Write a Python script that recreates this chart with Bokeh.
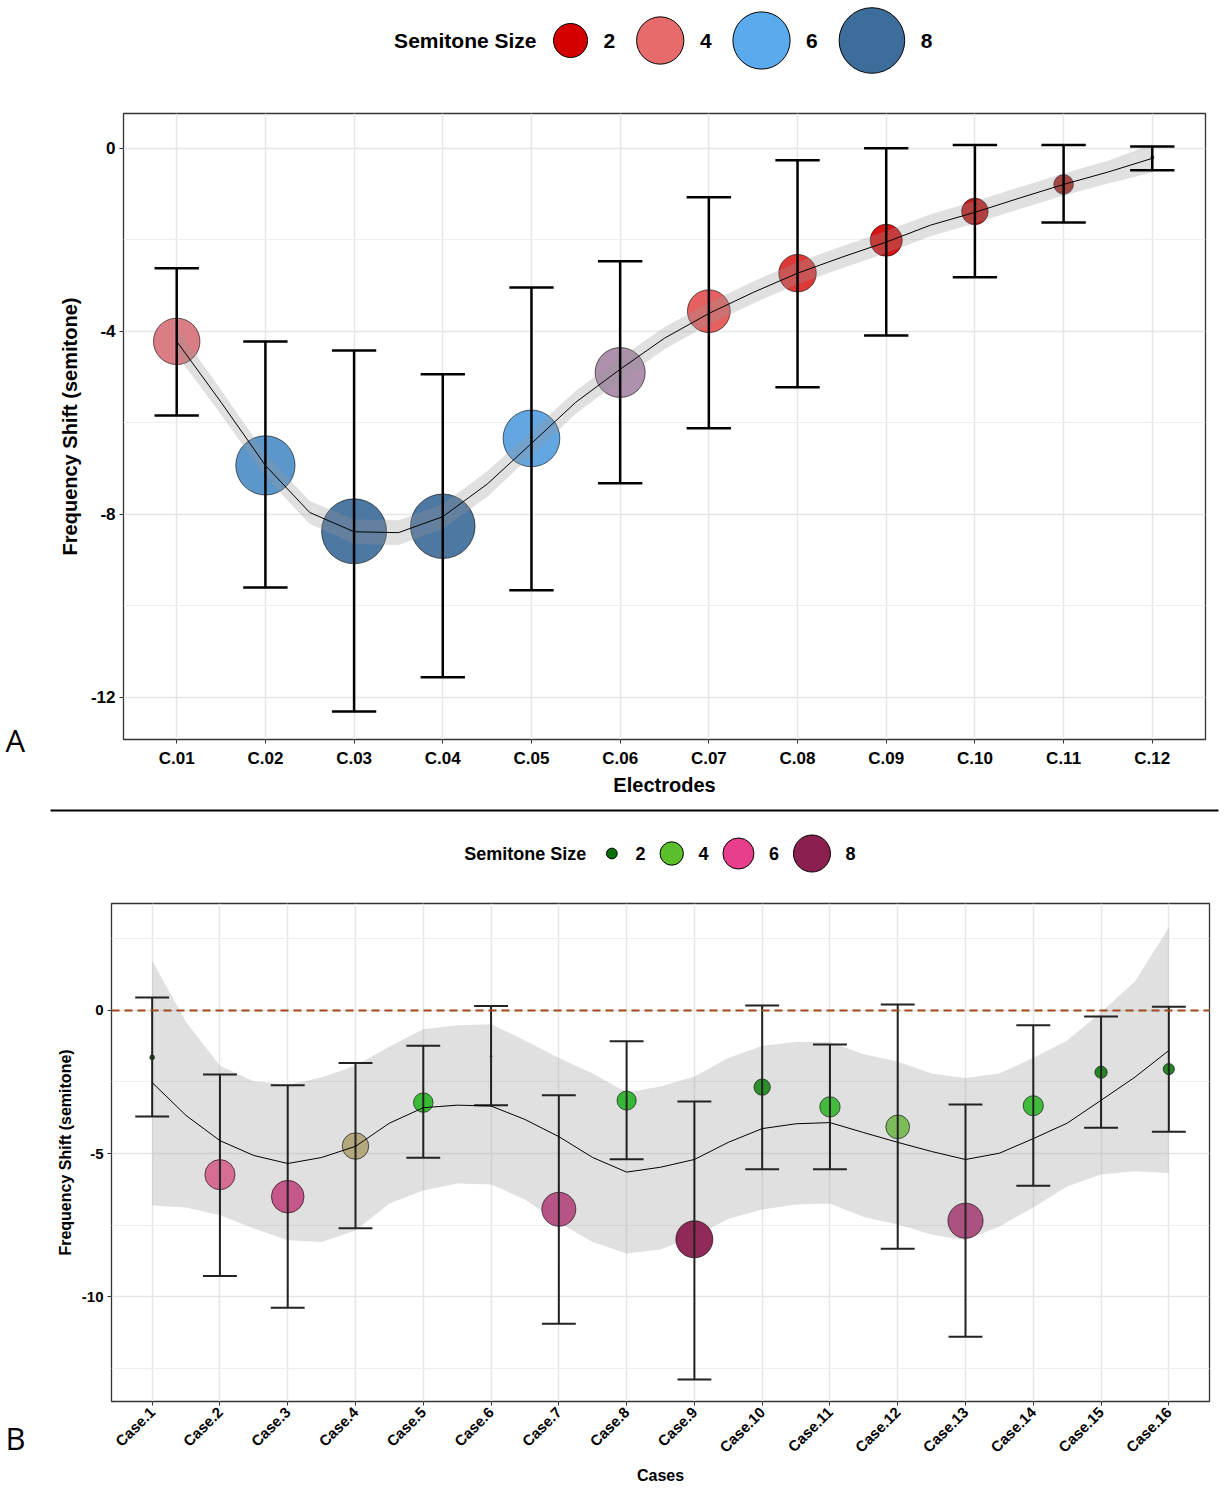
import math
from bokeh.plotting import figure
from bokeh.layouts import column, row
from bokeh.models import Range1d, FixedTicker, ColumnDataSource, Span
from bokeh.embed import file_html
from bokeh.resources import INLINE
from bokeh.core.properties import value

FONT = "Liberation Sans"
W = 1224
TAG_W = 30

# ---------------- Panel A data ----------------
electrodes = ["C.01", "C.02", "C.03", "C.04", "C.05", "C.06",
              "C.07", "C.08", "C.09", "C.10", "C.11", "C.12"]
shift_a = [-4.22, -6.93, -8.37, -8.26, -6.34, -4.90, -3.56, -2.73, -2.01, -1.38, -0.79, -0.20]
upper_a = [-2.62, -4.22, -4.42, -4.94, -3.04, -2.47, -1.07, -0.26, 0.00, 0.07, 0.07, 0.04]
lower_a = [-5.84, -9.60, -12.31, -11.56, -9.66, -7.32, -6.12, -5.22, -4.09, -2.82, -1.62, -0.48]
fit_pos_a = [1, 1.5, 2, 2.5, 3, 3.5, 4, 4.5, 5, 5.5, 6, 6.5, 7, 7.5, 8, 8.5, 9, 9.5,
             10, 10.5, 11, 11.5, 12]
fit_a = [-4.22, -5.55, -6.93, -7.96, -8.38, -8.40, -8.05, -7.34, -6.45, -5.55, -4.83,
         -4.15, -3.61, -3.15, -2.73, -2.38, -2.05, -1.68, -1.40, -1.09, -0.79, -0.52, -0.22]
fit_se_a = [0.30, 0.27, 0.25, 0.25, 0.27, 0.27, 0.27, 0.28, 0.26, 0.25, 0.25, 0.24,
            0.24, 0.24, 0.24, 0.24, 0.24, 0.24, 0.24, 0.24, 0.24, 0.25, 0.31]
yticks_a = [-12, -8, -4, 0]
yminor_a = [-10, -6, -2]

# ---------------- Panel B data ----------------
cases = ["Case.1", "Case.2", "Case.3", "Case.4", "Case.5", "Case.6", "Case.7", "Case.8",
         "Case.9", "Case.10", "Case.11", "Case.12", "Case.13", "Case.14", "Case.15", "Case.16"]
shift_b = [-1.64, -5.74, -6.51, -4.74, -3.22, -1.60, -6.95, -3.15,
           -8.00, -2.68, -3.37, -4.07, -7.35, -3.33, -2.16, -2.05]
upper_b = [0.45, -2.24, -2.61, -1.84, -1.23, 0.16, -2.96, -1.08,
           -3.18, 0.17, -1.19, 0.21, -3.29, -0.52, -0.21, 0.13]
lower_b = [-3.71, -9.28, -10.39, -7.61, -5.15, -3.31, -10.95, -5.20,
           -12.90, -5.55, -5.55, -8.33, -11.41, -6.13, -4.10, -4.24]
fit_pos_b = [1, 1.5, 2, 2.5, 3, 3.5, 4, 4.5, 5, 5.5, 6, 6.5, 7, 7.5, 8, 8.5, 9, 9.5,
             10, 10.5, 11, 11.5, 12, 12.5, 13, 13.5, 14, 14.5, 15, 15.5, 16]
fit_b = [-2.52, -3.67, -4.55, -5.07, -5.35, -5.14, -4.75, -3.94, -3.40, -3.31, -3.34,
         -3.81, -4.41, -5.14, -5.65, -5.48, -5.21, -4.61, -4.13, -3.96, -3.92, -4.27,
         -4.61, -4.93, -5.21, -4.99, -4.48, -3.94, -3.14, -2.33, -1.40]
fit_hi_b = [1.75, -0.40, -1.93, -2.47, -2.60, -2.34, -1.93, -1.26, -0.66, -0.52, -0.48,
            -1.05, -1.66, -2.20, -2.87, -2.66, -2.31, -1.66, -1.23, -1.10, -1.10, -1.53,
            -1.78, -2.20, -2.36, -2.20, -1.66, -1.05, -0.06, 1.01, 2.90]
fit_lo_b = [-6.82, -6.89, -7.16, -7.62, -8.03, -8.09, -7.69, -6.75, -6.29, -6.05, -6.08,
            -6.61, -7.41, -8.09, -8.50, -8.36, -7.89, -7.29, -6.96, -6.78, -6.75, -7.22,
            -7.48, -7.83, -8.03, -7.55, -6.89, -6.15, -5.73, -5.62, -5.68]
yticks_b = [-10, -5, 0]
yminor_b = [-12.5, -7.5, -2.5, 2.5]

legend_values = [2, 4, 6, 8]

# colour scales (|shift| -> colour)
stops_a = [(0.2, "#8b1a1a"), (2, "#d40000"), (4, "#e86b6b"), (6, "#5aaaee"), (8, "#3d6d9a")]
stops_b = [(1.6, "#006400"), (2.0, "#1a7d1a"), (2.68, "#228b22"), (3.2, "#2db82d"),
           (4.07, "#76b852"), (4.74, "#b0a478"), (5.74, "#d4668f"), (6.5, "#c44f86"),
           (7.35, "#a84a7a"), (8.0, "#8b1f50")]
legend_colors_b = ["#0a6e0a", "#5abf2a", "#e83e8c", "#8b1f50"]


def hex2rgb(h):
    return tuple(int(h[i:i + 2], 16) for i in (1, 3, 5))


def gradient(v, stops):
    if v <= stops[0][0]:
        return stops[0][1]
    for (v0, c0), (v1, c1) in zip(stops, stops[1:]):
        if v <= v1:
            t = (v - v0) / (v1 - v0)
            a, b = hex2rgb(c0), hex2rgb(c1)
            return "#%02x%02x%02x" % tuple(round(a[i] + (b[i] - a[i]) * t) for i in range(3))
    return stops[-1][1]


def area_size(v, lo, hi, dmin, dmax):
    t = min(max((v - lo) / (hi - lo), 0.0), 1.0)
    return dmin + (dmax - dmin) * math.sqrt(t)


def blank(fig):
    fig.xaxis.visible = False
    fig.yaxis.visible = False
    fig.grid.visible = False
    fig.outline_line_color = None
    fig.background_fill_color = "white"
    fig.border_fill_color = "white"


def page_fig(top, height, width=W):
    f = figure(width=width, height=height, x_range=Range1d(0, width),
               y_range=Range1d(top + height, top), output_backend="svg",
               toolbar_location=None, min_border=0)
    blank(f)
    return f


def tag_fig(top, height, y, tag):
    f = page_fig(top, height, TAG_W)
    f.text(x=[5], y=[y], text=[tag], text_align="left", text_baseline="middle",
           text_font=value("Open Sans"), text_font_size="31px", text_color="black")
    return f


def legend_fig(top, height, y_mid, title, fsize, diam, colors, cursor0, min_key,
               label_gap, item_gap, label_w, title_gap):
    f = page_fig(top, height)
    xs, ls = [], []
    cur = cursor0
    for d in diam:
        k = max(d, min_key)
        xs.append(cur + k / 2)
        ls.append(cur + k + label_gap)
        cur = cur + k + label_gap + label_w + item_gap
    n = len(diam)
    f.scatter(xs, [y_mid] * n, size=diam, fill_color=colors, line_color="black", line_width=1)
    f.text(x=[cursor0 - title_gap], y=[y_mid], text=[title], text_align="right",
           text_baseline="middle", text_font=value(FONT), text_font_style="bold",
           text_font_size=fsize, text_color="black")
    f.text(x=ls, y=[y_mid] * n, text=[str(v) for v in legend_values], text_align="left",
           text_baseline="middle", text_font=value(FONT), text_font_style="bold",
           text_font_size=fsize, text_color="black")
    return f


def rule_fig(top, height, y, lw):
    f = page_fig(top, height)
    f.segment(x0=[50], y0=[y], x1=[1218], y1=[y], line_color="black", line_width=lw)
    return f


def panel(height, n, y_lo, y_hi, borders, labels, yt, ym, tick_size, ytick_size, title_size,
          xtitle, ytitle, xstand, ystand, xlab_stand):
    p = figure(width=W - TAG_W, height=height, x_range=Range1d(0.4, n + 0.6),
               y_range=Range1d(y_lo, y_hi), output_backend="svg", toolbar_location=None,
               min_border_left=borders[0] - TAG_W, min_border_right=borders[1],
               min_border_top=borders[2], min_border_bottom=borders[3])
    p.background_fill_color = "white"
    p.border_fill_color = "white"
    p.outline_line_color = "#333333"
    p.outline_line_width = 1.3
    pos = list(range(1, n + 1))
    p.xaxis.ticker = FixedTicker(ticks=pos)
    p.xaxis.major_label_overrides = {k: lab for k, lab in zip(pos, labels)}
    p.yaxis.ticker = FixedTicker(ticks=yt, minor_ticks=ym)
    p.yaxis.major_label_overrides = {t: ("%g" % t) for t in yt}
    for ax in (p.xaxis, p.yaxis):
        ax.axis_line_color = None
        ax.major_tick_line_color = "#333333"
        ax.major_tick_line_width = 1
        ax.major_tick_out = 4
        ax.major_tick_in = 0
        ax.minor_tick_line_color = None
        ax.major_label_text_font = FONT
        ax.major_label_text_font_style = "bold"
        ax.major_label_text_color = "black"
        ax.axis_label_text_font = FONT
        ax.axis_label_text_font_style = "bold"
        ax.axis_label_text_color = "black"
        ax.axis_label_text_font_size = title_size
    p.xaxis.major_label_text_font_size = tick_size
    p.yaxis.major_label_text_font_size = ytick_size
    p.xaxis.major_label_standoff = xlab_stand
    p.yaxis.major_label_standoff = 4
    p.xaxis.axis_label = xtitle
    p.yaxis.axis_label = ytitle
    p.xaxis.axis_label_standoff = xstand
    p.yaxis.axis_label_standoff = ystand
    p.xgrid.ticker = FixedTicker(ticks=pos)
    p.xgrid.grid_line_color = "#e6e6e6"
    p.xgrid.grid_line_width = 1.5
    p.ygrid.grid_line_color = "#e6e6e6"
    p.ygrid.grid_line_width = 1.5
    p.ygrid.minor_grid_line_color = "#eeeeee"
    p.ygrid.minor_grid_line_width = 1
    return p, pos


def point_source(pos, shift, upper, lower, stops, dmin, dmax):
    mags = [abs(v) for v in shift]
    lo, hi = min(mags), max(mags)
    src = ColumnDataSource(dict(
        x=pos, y=shift, up=upper, lo=lower,
        x0=[q - 0.25 for q in pos], x1=[q + 0.25 for q in pos],
        size=[area_size(m, lo, hi, dmin, dmax) for m in mags],
        color=[gradient(m, stops) for m in mags]))
    return src, lo, hi


def draw_points(p, src, alpha):
    p.scatter("x", "y", size="size", fill_color="color", line_color="black",
              line_width=0.6, fill_alpha=alpha, source=src)


def draw_bars(p, src, bar_w, color):
    p.segment("x", "lo", "x", "up", line_color=color, line_width=bar_w, source=src)
    p.segment("x0", "up", "x1", "up", line_color=color, line_width=bar_w, source=src)
    p.segment("x0", "lo", "x1", "lo", line_color=color, line_width=bar_w, source=src)


# ---------------- Panel A (page y 80..800) ----------------
pA, posA = panel(720, len(electrodes), -12.92, 0.76, (123, 19, 33, 61), electrodes,
                 yticks_a, yminor_a, "17px", "17px", "20px", "Electrodes",
                 "Frequency Shift (semitone)", 3, 7, 5)
srcA, loA, hiA = point_source(posA, shift_a, upper_a, lower_a, stops_a, 3, 65)
draw_points(pA, srcA, 0.92)
pA.varea(x=fit_pos_a, y1=[f - s for f, s in zip(fit_a, fit_se_a)],
         y2=[f + s for f, s in zip(fit_a, fit_se_a)], fill_color="#999999", fill_alpha=0.3)
draw_bars(pA, srcA, 2.5, "black")
pA.line(fit_pos_a, fit_a, line_color="black", line_width=1)
tagA = tag_fig(80, 720, 739, "A")

legA = legend_fig(0, 80, 40, "Semitone Size", "21px",
                  [area_size(v, loA, hiA, 3, 65) + 2 for v in legend_values],
                  [gradient(v, stops_a) for v in legend_values],
                  553, 17, 16, 21, 12, 17)

# ---------------- Panel B (page y 885..1490) ----------------
pB, posB = panel(605, len(cases), -13.67, 3.74, (111, 15, 18, 89), cases,
                 yticks_b, yminor_b, "15px", "15px", "16px", "Cases",
                 "Frequency Shift (semitone)", 2, 5, 4)
pB.xaxis.major_label_orientation = math.pi / 4
srcB, loB, hiB = point_source(posB, shift_b, upper_b, lower_b, stops_b, 2, 37)
pB.varea(x=fit_pos_b, y1=fit_lo_b, y2=fit_hi_b, fill_color="#999999", fill_alpha=0.3)
draw_points(pB, srcB, 0.95)
draw_bars(pB, srcB, 2, "#222222")
pB.line(fit_pos_b, fit_b, line_color="black", line_width=1)
pB.add_layout(Span(location=0, dimension="width", line_color="#a04a1c",
                   line_dash="8 5", line_width=2))
tagB = tag_fig(885, 605, 1437, "B")

legB = legend_fig(820, 65, 853, "Semitone Size", "18px",
                  [area_size(v, loB, hiB, 2, 37) for v in legend_values],
                  legend_colors_b, 602.7, 17.3, 15, 14.5, 10, 17)

sep1 = rule_fig(800, 20, 810, 2)
sep2 = rule_fig(1490, 4, 1492, 3)

layout = column(row(legA),
                row(column(tagA), column(pA)),
                row(sep1),
                row(legB),
                row(column(tagB), column(pB)),
                row(sep2), spacing=0)
open("out.html", "w").write(file_html(layout, INLINE))
